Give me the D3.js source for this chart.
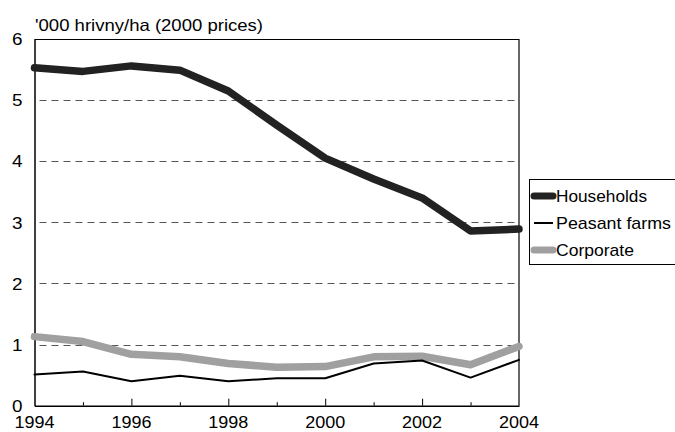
<!DOCTYPE html>
<html>
<head>
<meta charset="utf-8">
<script src="https://cdn.jsdelivr.net/npm/d3@7"></script>
<style>
  html, body { margin: 0; padding: 0; background: #fff; }
  svg { display: block; }
  text { font-family: "Liberation Sans", Arial, Helvetica, sans-serif; fill: #000; }
</style>
</head>
<body>
<svg id="chart" width="675" height="432"></svg>
<script>
const years = [1994, 1995, 1996, 1997, 1998, 1999, 2000, 2001, 2002, 2003, 2004];
const households = [5.53, 5.47, 5.56, 5.49, 5.15, 4.59, 4.05, 3.71, 3.40, 2.86, 2.89];
const peasantFarms = [0.51, 0.56, 0.40, 0.49, 0.40, 0.45, 0.45, 0.69, 0.74, 0.46, 0.75];
const corporate = [1.13, 1.05, 0.84, 0.80, 0.69, 0.63, 0.64, 0.80, 0.81, 0.67, 0.97];
const seriesNames = ["Households", "Peasant farms", "Corporate"];
const yTicks = [0, 1, 2, 3, 4, 5, 6];
const xTickLabels = ["1994", "1996", "1998", "2000", "2002", "2004"];
const unitLabel = "'000 hrivny/ha (2000 prices)";

const seriesValues = [households, peasantFarms, corporate];
const styles = [
  { color: "#222222", width: 7.5 },
  { color: "#000000", width: 2 },
  { color: "#a0a0a0", width: 7.5 }
];

const svg = d3.select("#chart");
const L = 34.5, R = 519, T = 39, B = 405.7;

const x = d3.scaleLinear().domain([1994, 2004]).range([L, R]);
const y = d3.scaleLinear().domain([0, 6]).range([B, T]);

// gridlines
svg.append("g").selectAll("line")
  .data(yTicks.filter(d => d > 0 && d < 6))
  .join("line")
  .attr("x1", L + 1).attr("x2", R)
  .attr("y1", d => Math.round(y(d)) + 0.5).attr("y2", d => Math.round(y(d)) + 0.5)
  .attr("stroke", "#555").attr("stroke-width", 1)
  .attr("stroke-dasharray", "7,5").attr("stroke-dashoffset", -4);

// frame: top and right
svg.append("line").attr("x1", L).attr("x2", R).attr("y1", T + 0.5).attr("y2", T + 0.5)
  .attr("stroke", "#000").attr("stroke-width", 1.2);
svg.append("line").attr("x1", R).attr("x2", R).attr("y1", T).attr("y2", B)
  .attr("stroke", "#000").attr("stroke-width", 1.2);

// y axis
const yAxis = d3.axisLeft(y).tickValues(yTicks).tickSize(0).tickPadding(12)
  .tickFormat(d3.format("d"));
const gy = svg.append("g").attr("transform", `translate(${L},0)`).call(yAxis);
gy.select(".domain").attr("stroke", "#000").attr("stroke-width", 1.5);
gy.selectAll("text").attr("font-size", 16)
  .attr("font-family", "'Liberation Sans', Arial, sans-serif")
  .attr("textLength", 10.5).attr("lengthAdjust", "spacingAndGlyphs")
  .attr("dy", "0.36em");

// x axis: ticks inside (upwards), long at even years
const xAxis = d3.axisBottom(x).tickValues(years).tickSizeInner(0).tickSizeOuter(0).tickFormat("");
const gx = svg.append("g").attr("transform", `translate(0,${B})`).call(xAxis);
gx.select(".domain").attr("stroke", "#000").attr("stroke-width", 1.5);
gx.selectAll(".tick line")
  .attr("y2", d => (d % 2 === 0 ? -7 : -3.5))
  .attr("stroke", "#000").attr("stroke-width", 1);
gx.selectAll(".tick").filter(d => d === 1994 || d === 2004).select("line").remove();

svg.append("g").selectAll("text")
  .data(xTickLabels)
  .join("text")
  .attr("x", d => x(+d))
  .attr("y", 428)
  .attr("text-anchor", "middle")
  .attr("font-size", 16)
  .attr("textLength", 40).attr("lengthAdjust", "spacingAndGlyphs")
  .text(d => d);

// unit label
svg.append("text")
  .attr("x", 35).attr("y", 31)
  .attr("font-size", 16.5)
  .attr("textLength", 228).attr("lengthAdjust", "spacingAndGlyphs")
  .text(unitLabel);

// lines
const line = d3.line().x((d, i) => x(years[i])).y(d => y(d));
const drawOrder = [2, 1, 0];
svg.append("g").selectAll("path")
  .data(drawOrder)
  .join("path")
  .attr("d", i => line(seriesValues[i]))
  .attr("fill", "none")
  .attr("stroke", i => styles[i].color)
  .attr("stroke-width", i => styles[i].width)
  .attr("stroke-linejoin", "round")
  .attr("stroke-linecap", "round");

// legend
const lg = svg.append("g");
lg.append("rect").attr("x", 529.5).attr("y", 179.5).attr("width", 160).attr("height", 85)
  .attr("fill", "#fff").attr("stroke", "#000").attr("stroke-width", 1);
const rowY = [196, 223, 250];
const textLens = [91, 115, 78];
seriesNames.forEach((name, i) => {
  lg.append("line")
    .attr("x1", 534).attr("x2", 553)
    .attr("y1", rowY[i]).attr("y2", rowY[i])
    .attr("stroke", styles[i].color)
    .attr("stroke-width", i === 1 ? 2 : 7)
    .attr("stroke-linecap", i === 1 ? "butt" : "round");
  lg.append("text")
    .attr("x", 556).attr("y", rowY[i])
    .attr("dy", "0.36em")
    .attr("font-size", 17)
    .attr("textLength", textLens[i]).attr("lengthAdjust", "spacingAndGlyphs")
    .text(name);
});
</script>
</body>
</html>
